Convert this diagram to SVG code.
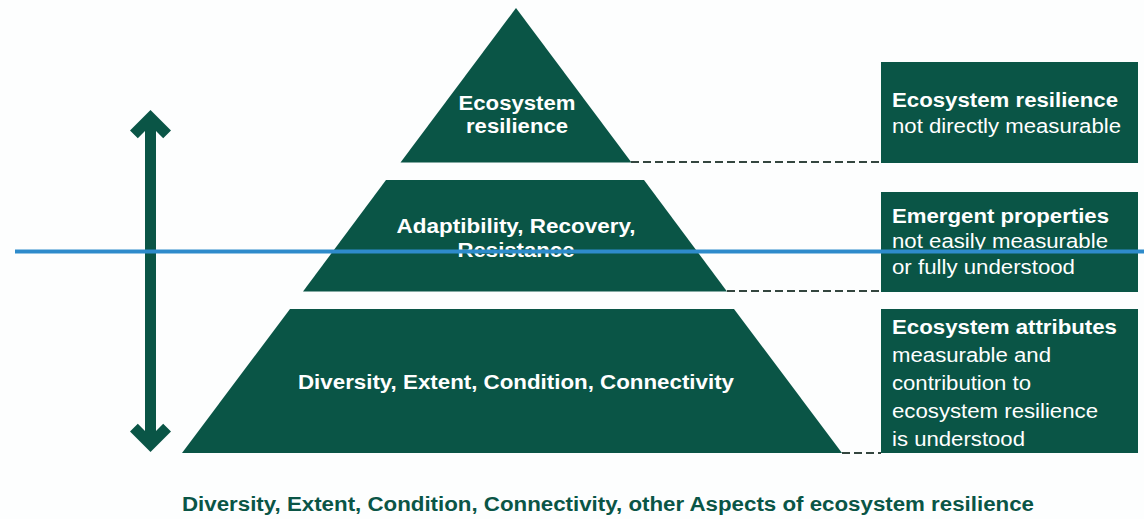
<svg xmlns="http://www.w3.org/2000/svg" width="1144" height="519" viewBox="0 0 1144 519">
<style>
.shape{fill:#0a5546}
.lbl{font-family:"Liberation Sans",Arial,sans-serif;font-size:19.5px;font-weight:bold;fill:#ffffff;text-anchor:middle}
.bt{font-family:"Liberation Sans",Arial,sans-serif;font-size:19.5px;font-weight:bold;fill:#ffffff}
.bn{font-family:"Liberation Sans",Arial,sans-serif;font-size:19.5px;fill:#ffffff}
.cap{font-family:"Liberation Sans",Arial,sans-serif;font-size:20px;font-weight:bold;fill:#0a5546}
.dash{stroke:#34463f;stroke-width:2.2;stroke-dasharray:8 4;fill:none}
</style>
<rect x="0" y="0" width="1144" height="519" fill="#fdfefe"/>

<g id="arrow">
<path class="shape" d="M150.5,110 L171,130.5 L163.2,138.3 L156,131.1 L156,430.9 L163.2,423.7 L171,431.5 L150.5,452 L130,431.5 L137.8,423.7 L145,430.9 L145,131.1 L137.8,138.3 L130,130.5 Z"/>
</g>

<g id="tier-top">
<polygon class="shape" points="516,8 631.5,162.5 400.5,162.5"/>
<text class="lbl" x="517" y="110" textLength="117" lengthAdjust="spacingAndGlyphs">Ecosystem</text>
<text class="lbl" x="517" y="133" textLength="102" lengthAdjust="spacingAndGlyphs">resilience</text>
</g>

<g id="tier-middle">
<polygon class="shape" points="386,180 644,180 727,291.5 303,291.5"/>
<text class="lbl" x="516" y="233" textLength="239" lengthAdjust="spacingAndGlyphs">Adaptibility, Recovery,</text>
<text class="lbl" x="516" y="257" textLength="117" lengthAdjust="spacingAndGlyphs">Resistance</text>
</g>

<g id="tier-bottom">
<polygon class="shape" points="290,309 734,309 842,453 182,453"/>
<text class="lbl" x="516" y="389" textLength="436" lengthAdjust="spacingAndGlyphs">Diversity, Extent, Condition, Connectivity</text>
</g>

<g id="box-1">
<rect class="shape" x="881" y="62" width="257" height="101"/>
<text class="bt" x="892" y="107" textLength="226" lengthAdjust="spacingAndGlyphs">Ecosystem resilience</text>
<text class="bn" x="892" y="133" textLength="229" lengthAdjust="spacingAndGlyphs">not directly measurable</text>
</g>

<g id="box-2">
<rect class="shape" x="881" y="192" width="257" height="100"/>
<text class="bt" x="892" y="223" textLength="217" lengthAdjust="spacingAndGlyphs">Emergent properties</text>
<text class="bn" x="892" y="248" textLength="216" lengthAdjust="spacingAndGlyphs">not easily measurable</text>
<text class="bn" x="892" y="274" textLength="183" lengthAdjust="spacingAndGlyphs">or fully understood</text>
</g>

<g id="box-3">
<rect class="shape" x="881" y="309" width="257" height="144"/>
<text class="bt" x="892" y="334" textLength="225" lengthAdjust="spacingAndGlyphs">Ecosystem attributes</text>
<text class="bn" x="892" y="362" textLength="159" lengthAdjust="spacingAndGlyphs">measurable and</text>
<text class="bn" x="892" y="390" textLength="139" lengthAdjust="spacingAndGlyphs">contribution to</text>
<text class="bn" x="892" y="418" textLength="206" lengthAdjust="spacingAndGlyphs">ecosystem resilience</text>
<text class="bn" x="892" y="446" textLength="133" lengthAdjust="spacingAndGlyphs">is understood</text>
</g>

<g id="connectors">
<line class="dash" x1="631" y1="162" x2="881" y2="162"/>
<line class="dash" x1="727" y1="291" x2="881" y2="291"/>
<line class="dash" x1="842" y1="453" x2="881" y2="453"/>
</g>

<g id="caption">
<text class="cap" x="182" y="511" textLength="852" lengthAdjust="spacingAndGlyphs">Diversity, Extent, Condition, Connectivity, other Aspects of ecosystem resilience</text>
</g>

<line id="blue-rule" x1="15" y1="251.5" x2="1144" y2="251.5" stroke="#2e8bcb" stroke-width="4"/>
</svg>
